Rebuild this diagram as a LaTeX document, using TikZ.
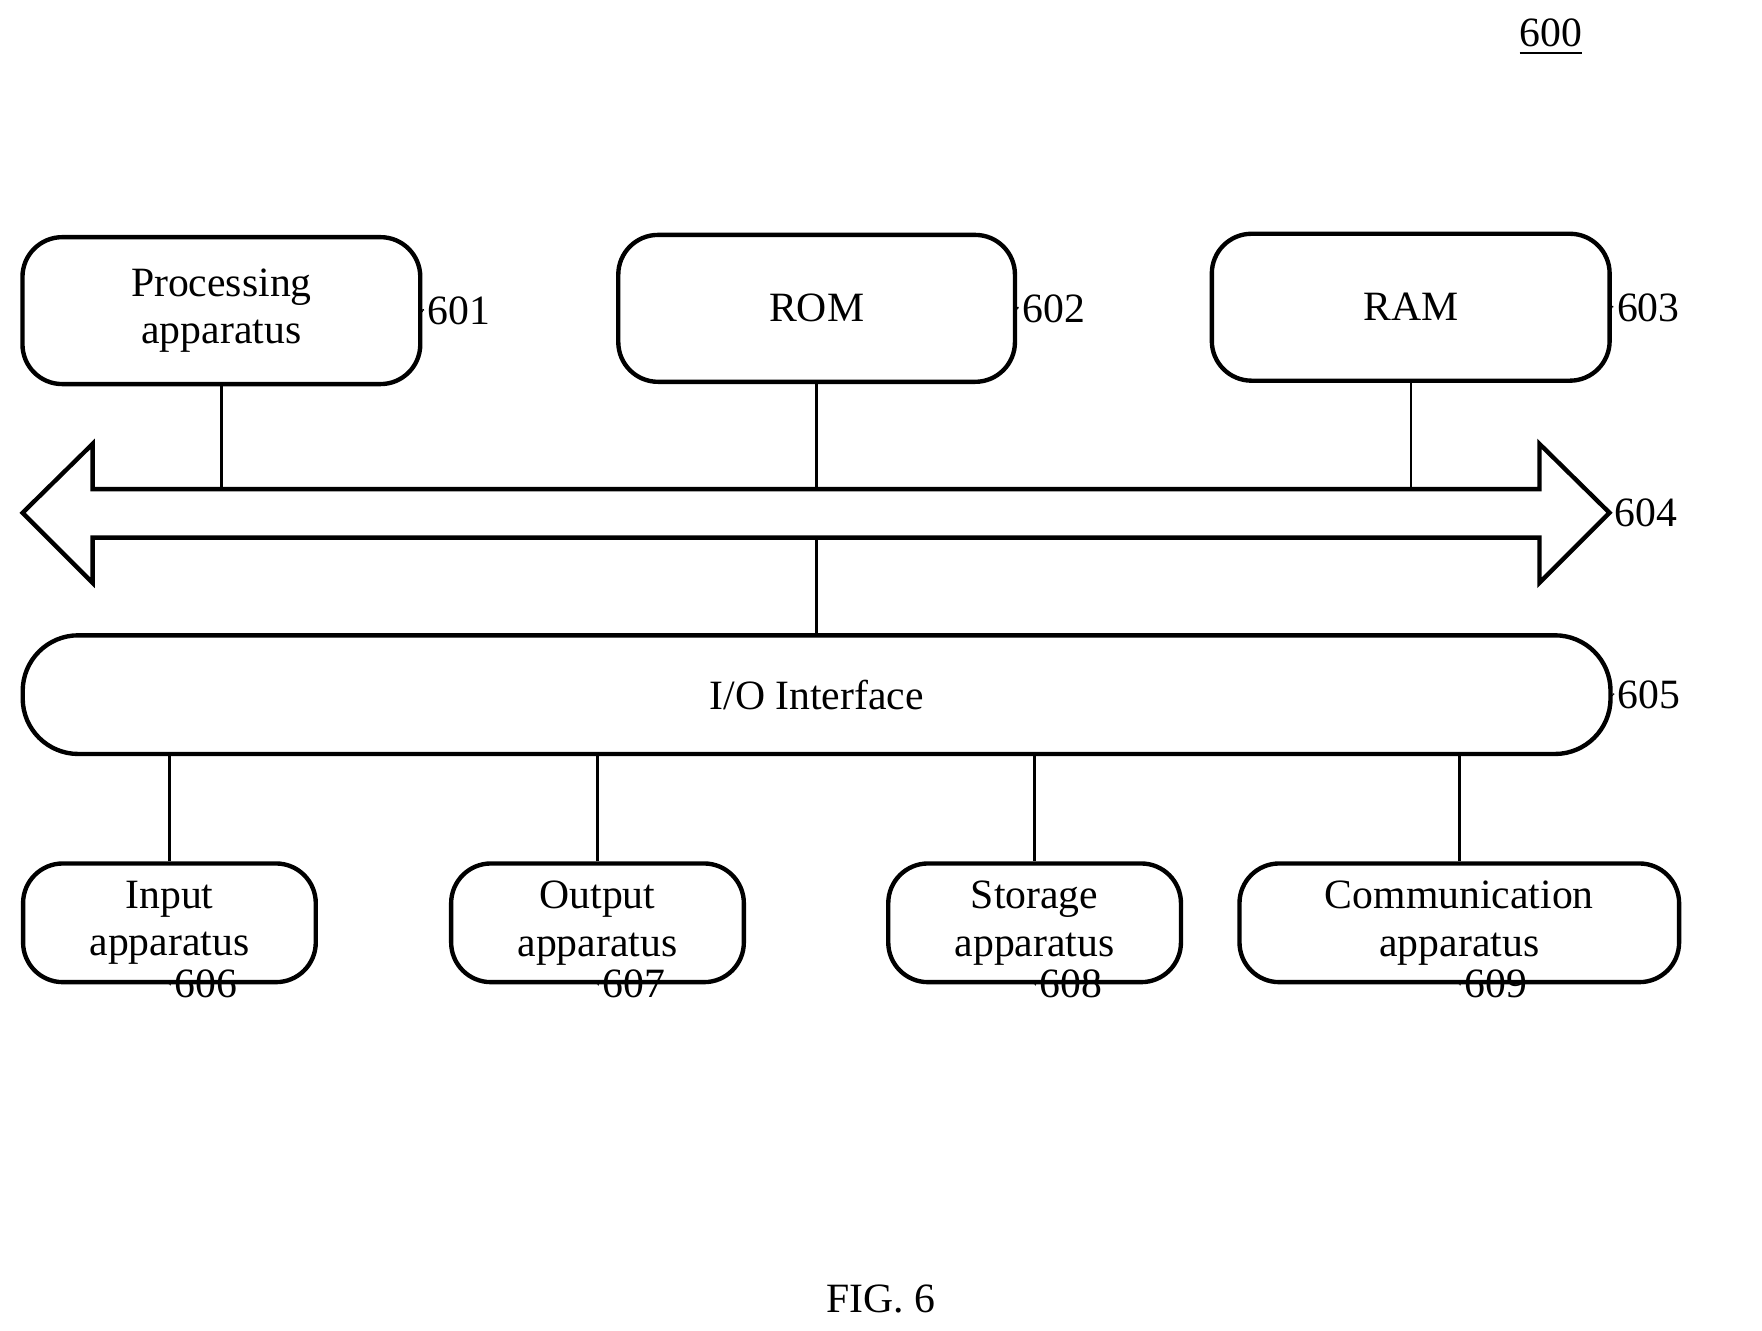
\documentclass[tikz,border=0pt]{standalone}
\usepackage{fontspec}
\setmainfont{Liberation Serif}
\usetikzlibrary{positioning, calc}
\tikzset{
  box/.style={rectangle, rounded corners=10pt, draw, line width=1.1pt, align=center,
              inner sep=0pt, font=\fontsize{10.5}{12}\selectfont},
  link/.style={line width=0.6pt},
  lead/.style={line width=0.7pt},
  tag/.style={font=\fontsize{10.5}{12}\selectfont, anchor=west, inner sep=1pt},
}
% leader: squiggle from a box side to its reference number
\newcommand{\rightlead}[2]{%
  \draw[lead] (#1) -- ++(0.25,0) .. controls +(0.12,0) and +(-0.12,0.05) .. ++(0.05,0.2)
    .. controls +(0.02,0.08) and +(-0.1,0) .. ++(0.12,0.1) coordinate (tmp);
  \node[tag] at (tmp) {#2};}
\newcommand{\downlead}[2]{%
  \draw[lead] (#1) -- ++(0.1,-0.05) .. controls +(0.1,-0.05) and +(-0.05,0.1) .. ++(0.05,-0.2)
    .. controls +(-0.05,-0.1) and +(-0.1,0) .. ++(0.15,-0.15) coordinate (tmp);
  \node[tag] at (tmp) {#2};}
\begin{document}
\begin{tikzpicture}[x=0.01cm, y=-0.01cm]
  \useasboundingbox (0,0) rectangle (1560,1178);

  \node[font=\fontsize{10.5}{12}\selectfont] (fig) at (1373,33) {\underline{600}};

  % top row
  \node[box, minimum width=3.52cm, minimum height=1.3cm] (proc) at (196,275) {Processing\\apparatus};
  \node[box, minimum width=3.51cm, minimum height=1.3cm] (rom) at (723,273) {ROM};
  \node[box, minimum width=3.52cm, minimum height=1.3cm] (ram) at (1249,272) {RAM};

  % bus
  \draw[line width=1.1pt] (82,433) -- (1363,433) -- (1363,393) -- (1425,454) -- (1363,516)
    -- (1363,476) -- (82,476) -- (82,516) -- (20,454) -- (82,393) -- cycle;
  \coordinate (busL) at (1425,454);
  \coordinate (busT) at (723,476);

  \node[box, rounded corners=14pt, minimum width=14.05cm, minimum height=1.05cm] (io) at (723,615) {I/O Interface};

  % bottom row
  \node[box, minimum width=2.59cm, minimum height=1.05cm] (in) at (150,817) {Input\\apparatus};
  \node[box, minimum width=2.59cm, minimum height=1.05cm] (out) at (529,817) {Output\\apparatus};
  \node[box, minimum width=2.59cm, minimum height=1.05cm] (sto) at (916,817) {Storage\\apparatus};
  \node[box, minimum width=3.89cm, minimum height=1.05cm] (com) at (1292,817) {Communication\\apparatus};

  \draw[link] (proc.south) -- (proc.south |- 0,433);
  \draw[link] (rom.south) -- (rom.south |- 0,433);
  \draw[link] (ram.south) -- (ram.south |- 0,433);
  \draw[link] (busT) -- (io.north);
  \foreach \n in {in, out, sto, com}
    \draw[link] (\n.north) -- (\n.north |- io.south);

  \rightlead{proc.east}{601}
  \rightlead{rom.east}{602}
  \rightlead{ram.east}{603}
  \rightlead{busL}{604}
  \rightlead{io.east}{605}
  \downlead{in.south}{606}
  \downlead{out.south}{607}
  \downlead{sto.south}{608}
  \downlead{com.south}{609}

  \node[font=\fontsize{10.5}{12}\selectfont] (cap) at (780,1150) {FIG. 6};
\end{tikzpicture}
\end{document}
